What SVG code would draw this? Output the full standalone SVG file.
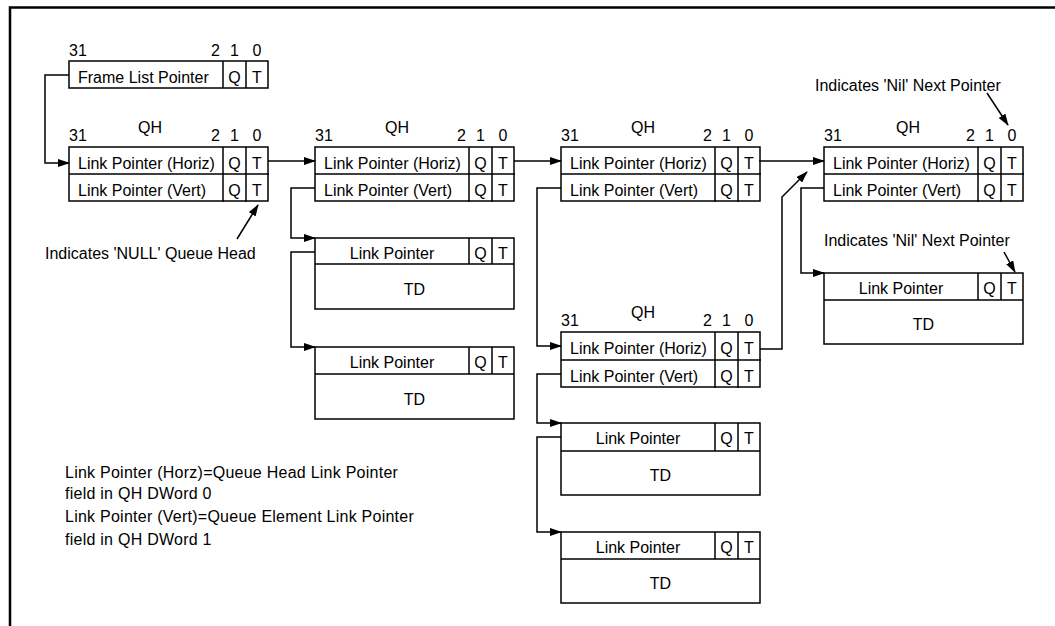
<svg xmlns="http://www.w3.org/2000/svg" width="1055" height="626" viewBox="0 0 1055 626">
<defs>
<style>
text{font-family:"Liberation Sans",Arial,sans-serif;font-size:16px;fill:#000}
.c{text-anchor:middle}
.note{letter-spacing:0.25px}
.box{fill:#fff;stroke:#000;stroke-width:1.5}
.ln{fill:none;stroke:#000;stroke-width:1.5}
.wire{fill:none;stroke:#000;stroke-width:1.5;marker-end:url(#ah)}
</style>
<marker id="ah" markerUnits="userSpaceOnUse" markerWidth="12" markerHeight="8" refX="11" refY="4" orient="auto">
<path d="M0,0 L12,4 L0,8 z" fill="#000"/>
</marker>
</defs>
<rect width="1055" height="626" fill="#fff"/>
<path d="M10,626 V7.5 H1055" fill="none" stroke="#000" stroke-width="2.5"/>

<g id="flp">
<rect class="box" x="69" y="61" width="199" height="27"/>
<path class="ln" d="M223,61 V88 M246,61 V88"/>
<text x="69" y="56">31</text>
<text x="211" y="56">2</text>
<text class="c" x="234.5" y="56">1</text>
<text class="c" x="257" y="56">0</text>
<text x="78" y="83">Frame List Pointer</text>
<text class="c" x="234.5" y="83">Q</text>
<text class="c" x="257" y="83">T</text>
</g>

<g id="qh1">
<rect class="box" x="69" y="147" width="199" height="54"/>
<path class="ln" d="M69,174 H269 M223,147 V202 M246,147 V202"/>
<text class="c" x="150" y="133">QH</text>
<text x="69" y="141">31</text>
<text x="211" y="141">2</text>
<text class="c" x="234.5" y="141">1</text>
<text class="c" x="257" y="141">0</text>
<text x="78" y="169">Link Pointer (Horiz)</text>
<text x="78" y="196">Link Pointer (Vert)</text>
<text class="c" x="234.5" y="169">Q</text>
<text class="c" x="257" y="169">T</text>
<text class="c" x="234.5" y="196">Q</text>
<text class="c" x="257" y="196">T</text>
</g>

<g id="qh2">
<rect class="box" x="315" y="147" width="199" height="54"/>
<path class="ln" d="M315,174 H515 M469,147 V202 M492,147 V202"/>
<text class="c" x="397" y="133">QH</text>
<text x="315" y="141">31</text>
<text x="457" y="141">2</text>
<text class="c" x="480.5" y="141">1</text>
<text class="c" x="503" y="141">0</text>
<text x="324" y="169">Link Pointer (Horiz)</text>
<text x="324" y="196">Link Pointer (Vert)</text>
<text class="c" x="480.5" y="169">Q</text>
<text class="c" x="503" y="169">T</text>
<text class="c" x="480.5" y="196">Q</text>
<text class="c" x="503" y="196">T</text>
</g>

<g id="qh3">
<rect class="box" x="561" y="147" width="199" height="54"/>
<path class="ln" d="M561,174 H761 M715,147 V202 M738,147 V202"/>
<text class="c" x="643" y="133">QH</text>
<text x="561" y="141">31</text>
<text x="703" y="141">2</text>
<text class="c" x="726.5" y="141">1</text>
<text class="c" x="749" y="141">0</text>
<text x="570" y="169">Link Pointer (Horiz)</text>
<text x="570" y="196">Link Pointer (Vert)</text>
<text class="c" x="726.5" y="169">Q</text>
<text class="c" x="749" y="169">T</text>
<text class="c" x="726.5" y="196">Q</text>
<text class="c" x="749" y="196">T</text>
</g>

<g id="qh4">
<rect class="box" x="824" y="147" width="199" height="54"/>
<path class="ln" d="M824,174 H1024 M978,147 V202 M1001,147 V202"/>
<text class="c" x="908" y="133">QH</text>
<text x="824" y="141">31</text>
<text x="966" y="141">2</text>
<text class="c" x="989.5" y="141">1</text>
<text class="c" x="1012" y="141">0</text>
<text x="833" y="169">Link Pointer (Horiz)</text>
<text x="833" y="196">Link Pointer (Vert)</text>
<text class="c" x="989.5" y="169">Q</text>
<text class="c" x="1012" y="169">T</text>
<text class="c" x="989.5" y="196">Q</text>
<text class="c" x="1012" y="196">T</text>
</g>

<g id="qh5">
<rect class="box" x="561" y="332" width="199" height="55"/>
<path class="ln" d="M561,360 H761 M715,332 V388 M738,332 V388"/>
<text class="c" x="643" y="318">QH</text>
<text x="561" y="326">31</text>
<text x="703" y="326">2</text>
<text class="c" x="726.5" y="326">1</text>
<text class="c" x="749" y="326">0</text>
<text x="570" y="354">Link Pointer (Horiz)</text>
<text x="570" y="382">Link Pointer (Vert)</text>
<text class="c" x="726.5" y="354">Q</text>
<text class="c" x="749" y="354">T</text>
<text class="c" x="726.5" y="382">Q</text>
<text class="c" x="749" y="382">T</text>
</g>

<g id="td1">
<rect class="box" x="315" y="238" width="199" height="71"/>
<path class="ln" d="M315,264 H514 M469,238 V264 M492,238 V264"/>
<text class="c" x="392" y="259">Link Pointer</text>
<text class="c" x="480.5" y="259">Q</text>
<text class="c" x="503" y="259">T</text>
<text class="c" x="414.5" y="295">TD</text>
</g>

<g id="td2">
<rect class="box" x="315" y="347" width="199" height="72"/>
<path class="ln" d="M315,374 H514 M469,347 V374 M492,347 V374"/>
<text class="c" x="392" y="368">Link Pointer</text>
<text class="c" x="480.5" y="368">Q</text>
<text class="c" x="503" y="368">T</text>
<text class="c" x="414.5" y="405">TD</text>
</g>

<g id="td3">
<rect class="box" x="561" y="423" width="199" height="72"/>
<path class="ln" d="M561,451 H760 M715,423 V451 M738,423 V451"/>
<text class="c" x="638" y="444">Link Pointer</text>
<text class="c" x="726.5" y="444">Q</text>
<text class="c" x="749" y="444">T</text>
<text class="c" x="660.5" y="481">TD</text>
</g>

<g id="td4">
<rect class="box" x="561" y="532" width="199" height="71"/>
<path class="ln" d="M561,559 H760 M715,532 V559 M738,532 V559"/>
<text class="c" x="638" y="553">Link Pointer</text>
<text class="c" x="726.5" y="553">Q</text>
<text class="c" x="749" y="553">T</text>
<text class="c" x="660.5" y="589">TD</text>
</g>

<g id="td5">
<rect class="box" x="824" y="273" width="199" height="71"/>
<path class="ln" d="M824,300 H1023 M978,273 V300 M1001,273 V300"/>
<text class="c" x="901" y="294">Link Pointer</text>
<text class="c" x="989.5" y="294">Q</text>
<text class="c" x="1012" y="294">T</text>
<text class="c" x="923.5" y="330">TD</text>
</g>

<g id="connectors">
<path class="wire" d="M69,75 H45 V163 H69"/>
<path class="wire" d="M268,161 H315"/>
<path class="wire" d="M315,188 H291 V238 H315"/>
<path class="wire" d="M315,252 H291 V347 H315"/>
<path class="wire" d="M514,161 H561"/>
<path class="wire" d="M561,188 H537 V346 H561"/>
<path class="wire" d="M759,161 H824"/>
<path class="wire" d="M824,188 H801 V273 H824"/>
<path class="wire" d="M760,349 H782 V197 L807,172"/>
<path class="wire" d="M561,374 H537 V423 H561"/>
<path class="wire" d="M561,437 H537 V532 H561"/>
</g>

<g id="annotations">
<text x="45" y="259">Indicates 'NULL' Queue Head</text>
<path class="wire" d="M237,239 L258,205"/>
<text x="815" y="91">Indicates 'Nil' Next Pointer</text>
<path class="wire" d="M987,93 L1008,125"/>
<text x="824" y="246">Indicates 'Nil' Next Pointer</text>
<path class="wire" d="M1004,252 L1015,272"/>
</g>

<g id="notes">
<text class="note" x="65" y="478">Link Pointer (Horz)=Queue Head Link Pointer</text>
<text class="note" x="65" y="499">field in QH DWord 0</text>
<text class="note" x="65" y="522">Link Pointer (Vert)=Queue Element Link Pointer</text>
<text class="note" x="65" y="545">field in QH DWord 1</text>
</g>
</svg>
